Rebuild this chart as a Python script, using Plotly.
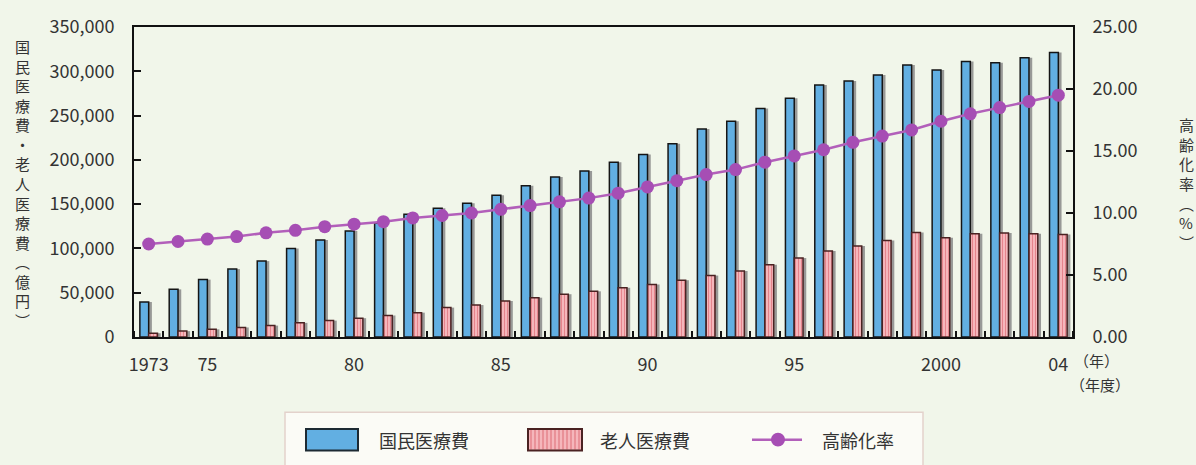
import plotly.graph_objects as go

# 年度
years = list(range(1973, 2005))

# 国民医療費（億円）
national_cost = [
    39496, 53786, 64779, 76684, 85686, 100042, 109510, 119805,
    128709, 138659, 145438, 150932, 160159, 170690, 180759, 187554,
    197290, 206074, 218260, 234784, 243631, 257908, 269577, 284542,
    289149, 295823, 307019, 301418, 310998, 309507, 315375, 321111,
]

# 老人医療費（億円）
elderly_cost = [
    4289, 6652, 8666, 10780, 12872, 15948, 18503, 21269,
    24281, 27487, 33185, 36098, 40673, 44377, 48309, 51593,
    55578, 59269, 64095, 69372, 74511, 81596, 89152, 97232,
    102786, 108932, 118040, 111997, 116560, 117300, 116524, 115764,
]

# 高齢化率（%）
aging_rate = [
    7.5, 7.7, 7.9, 8.1, 8.4, 8.6, 8.9, 9.1,
    9.3, 9.6, 9.8, 10.0, 10.3, 10.6, 10.9, 11.2,
    11.6, 12.1, 12.6, 13.1, 13.5, 14.1, 14.6, 15.1,
    15.7, 16.2, 16.7, 17.4, 18.0, 18.5, 19.0, 19.5,
]

# x軸の目盛ラベル
tick_years = [1973, 1975, 1980, 1985, 1990, 1995, 2000, 2004]
tick_text = ["1973", "75", "80", "85", "90", "95", "2000", "04"]

series_names = ["国民医療費", "老人医療費", "高齢化率"]

BG = "#f1f6ea"
BLUE = "#62afe2"
PINK_BG = "#f5b6bb"
PINK_FG = "#e5848c"
PURPLE = "#a64eb4"
LINE = "#b25fba"
TEXT = "#333333"
JP = "Noto Sans CJK JP"

W, H = 1196, 465
L, R, T, B = 134, 1073, 20, 337  # plot area in pixels

def px_x(px):
    return (px - L) / (R - L)

def px_y(py):
    return (B - py) / (B - T)

fig = go.Figure()

# bar shadows
for vals, off in ((national_cost, -0.19), (elderly_cost, 0.11)):
    fig.add_trace(go.Bar(
        x=years, y=vals, offset=off, width=0.30,
        marker=dict(color="rgba(130,130,130,0.8)", line=dict(width=0)),
        showlegend=False, hoverinfo="skip",
    ))

fig.add_trace(go.Bar(
    x=years, y=national_cost, name=series_names[0],
    offset=-0.30, width=0.30,
    marker=dict(color=BLUE, line=dict(color="#151515", width=1.5)),
    showlegend=False,
))
fig.add_trace(go.Bar(
    x=years, y=elderly_cost, name=series_names[1],
    offset=0.0, width=0.30,
    marker=dict(
        color=PINK_BG,
        line=dict(color="#4a2222", width=1.5),
        pattern=dict(shape="|", fgcolor=PINK_FG, bgcolor=PINK_BG,
                     size=3, solidity=0.35, fillmode="replace"),
    ),
    showlegend=False,
))
fig.add_trace(go.Scatter(
    x=years, y=aging_rate, name=series_names[2], yaxis="y2",
    mode="lines+markers",
    line=dict(color=LINE, width=2.5),
    marker=dict(color=PURPLE, size=13),
    showlegend=False,
))

fig.update_layout(
    width=W, height=H,
    margin=dict(l=L, r=W - R, t=T, b=H - B),
    paper_bgcolor=BG, plot_bgcolor=BG,
    barmode="overlay",
    font=dict(family=JP, color=TEXT, size=18),
    xaxis=dict(
        range=[1972.5, 2004.5],
        tickmode="array", tickvals=tick_years, ticktext=tick_text,
        ticks="", ticklabelstandoff=10,
        tickfont=dict(size=18, color=TEXT),
        showline=True, linecolor="#111", linewidth=2, mirror=True,
        showgrid=False, zeroline=False,
        minor=dict(tickmode="linear", tick0=1972.5, dtick=1,
                   ticks="inside", ticklen=6, tickwidth=2, tickcolor="#111"),
    ),
    yaxis=dict(
        range=[0, 350000], tickmode="linear", tick0=0, dtick=50000,
        tickformat=",d", ticks="inside", ticklen=7, tickwidth=2, tickcolor="#111",
        ticklabelstandoff=14,
        tickfont=dict(size=18, color=TEXT),
        showline=True, linecolor="#111", linewidth=2,
        showgrid=False, zeroline=False,
    ),
    yaxis2=dict(
        overlaying="y", side="right",
        range=[0, 25], tickmode="linear", tick0=0, dtick=5,
        tickformat=".2f", ticks="inside", ticklen=7, tickwidth=2, tickcolor="#111",
        ticklabelstandoff=14,
        tickfont=dict(size=18, color=TEXT),
        showline=True, linecolor="#111", linewidth=2,
        showgrid=False, zeroline=False,
    ),
)

annotations = []

def add_text(text, px, py, size=17, xanchor="center"):
    annotations.append(dict(
        text=text, x=px_x(px), y=px_y(py), xref="paper", yref="paper",
        showarrow=False, xanchor=xanchor, yanchor="middle",
        font=dict(family=JP, size=size, color=TEXT),
    ))

# left axis title, one character per row
left_title = list("国民医療費・老人医療費") + ["︵", "億", "円", "︶"]
left_pos = [40 + 20 * i for i in range(len(left_title))]
for ch, py in zip(left_title, left_pos):
    add_text(ch, 22, py, size=15)

# right axis title, one character per row
right_title = list("高齢化率") + ["︵", "%", "︶"]
right_pos = [120 + 20 * i for i in range(len(right_title))]
for ch, py in zip(right_title, right_pos):
    add_text(ch, 1186, py, size=15)

# x-axis unit labels
add_text("（年）", 1072, 361, size=15, xanchor="left")
add_text("（年度）", 1068, 386, size=15, xanchor="left")

shapes = []

def rect(x0, y0, x1, y1, **kw):
    shapes.append(dict(type="rect", xref="paper", yref="paper",
                       x0=px_x(x0), x1=px_x(x1), y0=px_y(y0), y1=px_y(y1), **kw))

# legend frame
rect(285, 414, 923, 475, line=dict(color="#e3d2cc", width=1.5), fillcolor="#fbfbf6")

# legend: 国民医療費
rect(306, 431, 358, 453, line=dict(color="#1d2a33", width=2), fillcolor=BLUE)
add_text(series_names[0], 377, 442, size=18, xanchor="left")

# legend: 老人医療費 (striped swatch)
rect(528, 431, 582, 453, line=dict(width=0), fillcolor=PINK_BG)
for sx in range(531, 581, 4):
    shapes.append(dict(type="line", xref="paper", yref="paper",
                       x0=px_x(sx), x1=px_x(sx), y0=px_y(432), y1=px_y(452),
                       line=dict(color=PINK_FG, width=1.5)))
rect(528, 431, 582, 453, line=dict(color="#4a2222", width=2), fillcolor="rgba(0,0,0,0)")
add_text(series_names[1], 598, 442, size=18, xanchor="left")

# legend: 高齢化率
shapes.append(dict(type="line", xref="paper", yref="paper",
                   x0=px_x(752), x1=px_x(802), y0=px_y(442), y1=px_y(442),
                   line=dict(color=LINE, width=2.5)))
shapes.append(dict(type="circle", xref="paper", yref="paper",
                   x0=px_x(771), x1=px_x(785), y0=px_y(435), y1=px_y(449),
                   line=dict(width=0), fillcolor=PURPLE))
add_text(series_names[2], 820, 442, size=18, xanchor="left")

fig.update_layout(annotations=annotations, shapes=shapes)

fig.write_html("out.html")
